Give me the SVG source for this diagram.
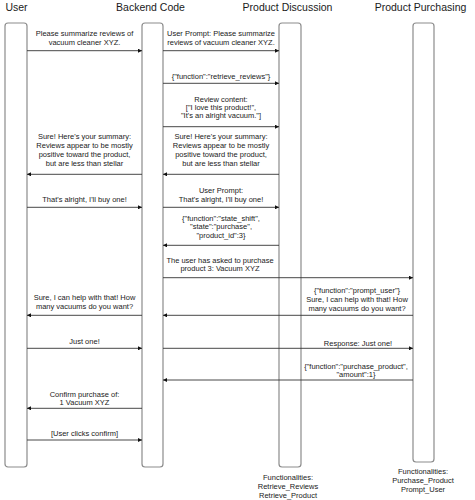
<svg xmlns="http://www.w3.org/2000/svg" width="475" height="500" viewBox="0 0 475 500">
<style>
.hdr{font-family:"Liberation Sans",Arial,sans-serif;font-size:10.5px;fill:#1a1a1a;text-anchor:middle}
.msg{font-family:"Liberation Sans",Arial,sans-serif;font-size:7.5px;fill:#1a1a1a;text-anchor:middle}
.life{fill:#ffffff;stroke:#8c8c8c;stroke-width:1.2}
.conn{stroke:#333333;stroke-width:0.9;fill:none;marker-end:url(#arr)}
</style>
<defs>
<marker id="arr" viewBox="0 0 6 6" refX="6" refY="3" markerWidth="4" markerHeight="4" markerUnits="userSpaceOnUse" orient="auto">
<path d="M0,0 L6,3 L0,6 z" fill="#111"/>
</marker>
</defs>
<rect width="475" height="500" fill="#ffffff"/>

<g id="user">
<text class="hdr" x="16.5" y="10.5">User</text>
<rect class="life" x="5" y="23" width="22" height="444" rx="3"/>
</g>
<g id="backend">
<text class="hdr" x="150.5" y="10.5">Backend Code</text>
<rect class="life" x="142" y="23" width="21" height="444" rx="3"/>
</g>
<g id="discussion">
<text class="hdr" x="287.5" y="10.5">Product Discussion</text>
<rect class="life" x="279" y="23" width="22" height="444" rx="3"/>
<text class="msg" x="288" y="479.8">Functionalities:</text>
<text class="msg" x="288" y="489.2">Retrieve_Reviews</text>
<text class="msg" x="288" y="497.8">Retrieve_Product</text>
</g>
<g id="purchasing">
<text class="hdr" x="420.5" y="10.5">Product Purchasing</text>
<rect class="life" x="413" y="23" width="21" height="439" rx="3"/>
<text class="msg" x="423" y="474.2">Functionalities:</text>
<text class="msg" x="423" y="483.2">Purchase_Product</text>
<text class="msg" x="423" y="491.8">Prompt_User</text>
</g>

<g id="connectors">
<line class="conn" x1="27" y1="50.7" x2="142" y2="50.7"/>
<line class="conn" x1="163" y1="50.7" x2="279" y2="50.7"/>
<line class="conn" x1="163" y1="83.3" x2="279" y2="83.3"/>
<line class="conn" x1="163" y1="126.7" x2="279" y2="126.7"/>
<line class="conn" x1="279" y1="174.3" x2="163" y2="174.3"/>
<line class="conn" x1="142" y1="174.3" x2="27" y2="174.3"/>
<line class="conn" x1="27" y1="207.3" x2="142" y2="207.3"/>
<line class="conn" x1="163" y1="207.3" x2="279" y2="207.3"/>
<line class="conn" x1="279" y1="245.3" x2="163" y2="245.3"/>
<line class="conn" x1="163" y1="277.7" x2="413" y2="277.7"/>
<line class="conn" x1="413" y1="315.3" x2="163" y2="315.3"/>
<line class="conn" x1="142" y1="315.3" x2="27" y2="315.3"/>
<line class="conn" x1="27" y1="348.3" x2="142" y2="348.3"/>
<line class="conn" x1="163" y1="348.3" x2="413" y2="348.3"/>
<line class="conn" x1="413" y1="380" x2="163" y2="380"/>
<line class="conn" x1="142" y1="408.3" x2="27" y2="408.3"/>
<line class="conn" x1="27" y1="440" x2="142" y2="440"/>

<text class="msg" x="84.5" y="36">Please summarize reviews of</text>
<text class="msg" x="84.5" y="45">vacuum cleaner XYZ.</text>

<text class="msg" x="221" y="36">User Prompt: Please summarize</text>
<text class="msg" x="221" y="45">reviews of vacuum cleaner XYZ.</text>

<text class="msg" x="221" y="78.5">{"function":"retrieve_reviews"}</text>

<text class="msg" x="221" y="101.5">Review content:</text>
<text class="msg" x="221" y="109.7">["I love this product!",</text>
<text class="msg" x="221" y="117.9">"It's an alright vacuum."]</text>

<text class="msg" x="221" y="138.5">Sure! Here's your summary:</text>
<text class="msg" x="221" y="147.8">Reviews appear to be mostly</text>
<text class="msg" x="221" y="157.1">positive toward the product,</text>
<text class="msg" x="221" y="166.4">but are less than stellar</text>

<text class="msg" x="84.5" y="138.5">Sure! Here's your summary:</text>
<text class="msg" x="84.5" y="147.8">Reviews appear to be mostly</text>
<text class="msg" x="84.5" y="157.1">positive toward the product,</text>
<text class="msg" x="84.5" y="166.4">but are less than stellar</text>

<text class="msg" x="84.5" y="201.8">That's alright, I'll buy one!</text>

<text class="msg" x="221" y="192.5">User Prompt:</text>
<text class="msg" x="221" y="201.8">That's alright, I'll buy one!</text>

<text class="msg" x="221" y="220.5">{"function":"state_shift",</text>
<text class="msg" x="221" y="229">"state":"purchase",</text>
<text class="msg" x="221" y="237.5">"product_id":3}</text>

<text class="msg" x="220" y="262.5">The user has asked to purchase</text>
<text class="msg" x="220" y="270.8">product 3: Vacuum XYZ</text>

<text class="msg" x="357" y="293.2">{"function":"prompt_user"}</text>
<text class="msg" x="357" y="302">Sure, I can help with that! How</text>
<text class="msg" x="357" y="310.8">many vacuums do you want?</text>

<text class="msg" x="84.5" y="300.2">Sure, I can help with that! How</text>
<text class="msg" x="84.5" y="309.2">many vacuums do you want?</text>

<text class="msg" x="84.5" y="343.5">Just one!</text>

<text class="msg" x="358" y="345.8">Response: Just one!</text>

<text class="msg" x="356" y="368.5">{"function":"purchase_product",</text>
<text class="msg" x="356" y="376.8">"amount":1}</text>

<text class="msg" x="84.5" y="396.5">Confirm purchase of:</text>
<text class="msg" x="84.5" y="404.8">1 Vacuum XYZ</text>

<text class="msg" x="84.5" y="435.8">[User clicks confirm]</text>
</g>
</svg>
